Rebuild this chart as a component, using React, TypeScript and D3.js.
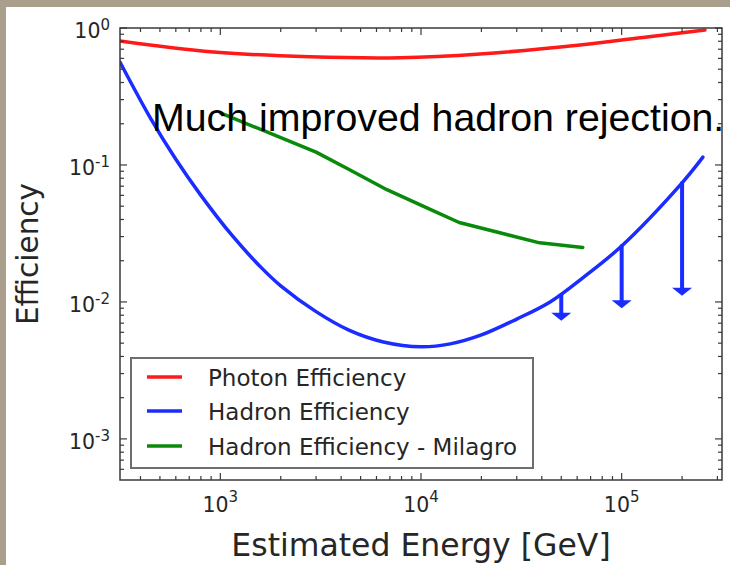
import React from "react";
import * as d3 from "d3";

// ---- data ----
const PHOTON_E = [316, 890, 2800, 7850, 19700, 62000, 133700, 260000];
const PHOTON_EFF = [0.804, 0.671, 0.617, 0.607, 0.646, 0.751, 0.86, 0.967];

const HADRON_E = [316, 450, 600, 800, 1150, 1600, 2000, 3000, 4400, 6500, 10000, 14000, 20000, 30000, 44000, 64000, 100000, 200000, 254000];
const HADRON_EFF = [0.565, 0.218, 0.11, 0.06, 0.0303, 0.0178, 0.0131, 0.0085, 0.0062, 0.0051, 0.0047, 0.00494, 0.00574, 0.0075, 0.01, 0.015, 0.0256, 0.074, 0.114];

const MILAGRO_E = [1000, 3000, 4430, 6760, 10700, 15500, 24700, 39000, 64000];
const MILAGRO_EFF = [0.24, 0.124, 0.092, 0.066, 0.0486, 0.038, 0.032, 0.027, 0.025];

const LIMIT_E = [50000, 100000, 200000];
const LIMIT_FROM = [0.0112, 0.0256, 0.074];
const LIMIT_TO = [0.0073, 0.009, 0.0111];

const X_TICK_EXP = [3, 4, 5];
const Y_TICK_EXP = [0, -1, -2, -3];

const LEGEND_LABELS = ["Photon Efficiency", "Hadron Efficiency", "Hadron Efficiency - Milagro"];
const LEGEND_COLORS = ["#ff1a1a", "#1a2cff", "#0a8a0a"];

const ANNOTATION = "Much improved hadron rejection.";
const X_LABEL = "Estimated Energy [GeV]";
const Y_LABEL = "Efficiency";

// ---- layout ----
const W = 730, H = 565;
const L = 120, R = 722, T = 28, B = 480;
const FONT = "DejaVu Sans, Bitstream Vera Sans, sans-serif";

export default function App() {
  const x = d3.scaleLog().domain([Math.pow(10, 2.5), Math.pow(10, 5.5)]).range([L, R]);
  const y = d3.scaleLog().domain([Math.pow(10, -3.3), 1]).range([B, T]);

  const smooth = d3
    .line<[number, number]>()
    .x((d) => x(d[0]))
    .y((d) => y(d[1]))
    .curve(d3.curveCatmullRom.alpha(0.5));
  const lineLin = d3
    .line<[number, number]>()
    .x((d) => x(d[0]))
    .y((d) => y(d[1]));

  const photon = PHOTON_E.map((e, i) => [e, PHOTON_EFF[i]] as [number, number]);
  const hadron = HADRON_E.map((e, i) => [e, HADRON_EFF[i]] as [number, number]);
  const milagro = MILAGRO_E.map((e, i) => [e, MILAGRO_EFF[i]] as [number, number]);

  // minor ticks
  const xMinor: number[] = [];
  for (let k = 2; k <= 5; k++) for (let m = 2; m <= 9; m++) {
    const v = m * Math.pow(10, k);
    if (v > x.domain()[0] && v < x.domain()[1]) xMinor.push(v);
  }
  const yMinor: number[] = [];
  for (let k = -4; k <= -1; k++) for (let m = 2; m <= 9; m++) {
    const v = m * Math.pow(10, k);
    if (v > y.domain()[0] && v < y.domain()[1]) yMinor.push(v);
  }
  const MAJ = 7, MIN = 4;
  const frame = "#3a3a3a";

  const legX = 131, legY = 358, legW = 402, legH = 110;
  const legRows = [377, 411, 446];

  return (
    <svg width={W} height={H} style={{ position: "absolute", left: 0, top: 0 }}>
      <defs>
        <clipPath id="plotclip">
          <rect x={L} y={T} width={R - L} height={B - T} />
        </clipPath>
      </defs>
      <rect x={0} y={0} width={W} height={H} fill="#aa9f8c" />
      <rect x={6} y={7} width={W - 6} height={H - 7} fill="#ffffff" />

      {/* curves */}
      <g clipPath="url(#plotclip)" fill="none" strokeLinejoin="round" strokeLinecap="round">
        <path d={smooth(photon) || ""} stroke={LEGEND_COLORS[0]} strokeWidth={3.5} />
        <path d={smooth(hadron) || ""} stroke={LEGEND_COLORS[1]} strokeWidth={3.5} />
        <path d={lineLin(milagro) || ""} stroke={LEGEND_COLORS[2]} strokeWidth={3.5} />
        {LIMIT_E.map((e, i) => {
          const cx = x(e);
          const y0 = y(LIMIT_FROM[i]);
          const y1 = y(LIMIT_TO[i]);
          const hh = 8, hw = 10;
          return (
            <g key={i}>
              <line x1={cx} x2={cx} y1={y0} y2={y1 - hh + 1} stroke={LEGEND_COLORS[1]} strokeWidth={4} />
              <path d={`M${cx - hw},${y1 - hh}L${cx + hw},${y1 - hh}L${cx},${y1}Z`} fill={LEGEND_COLORS[1]} stroke="none" />
            </g>
          );
        })}
      </g>

      {/* frame */}
      <rect x={L} y={T} width={R - L} height={B - T} fill="none" stroke={frame} strokeWidth={1.5} />

      {/* ticks */}
      <g stroke={frame} strokeWidth={1.2}>
        {X_TICK_EXP.map((k) => {
          const px = x(Math.pow(10, k));
          return (
            <g key={"xm" + k}>
              <line x1={px} x2={px} y1={B} y2={B - MAJ} />
              <line x1={px} x2={px} y1={T} y2={T + MAJ} />
            </g>
          );
        })}
        {xMinor.map((v, i) => {
          const px = x(v);
          return (
            <g key={"xn" + i}>
              <line x1={px} x2={px} y1={B} y2={B - MIN} />
              <line x1={px} x2={px} y1={T} y2={T + MIN} />
            </g>
          );
        })}
        {Y_TICK_EXP.map((k) => {
          const py = y(Math.pow(10, k));
          return (
            <g key={"ym" + k}>
              <line x1={L} x2={L + MAJ} y1={py} y2={py} />
              <line x1={R} x2={R - MAJ} y1={py} y2={py} />
            </g>
          );
        })}
        {yMinor.map((v, i) => {
          const py = y(v);
          return (
            <g key={"yn" + i}>
              <line x1={L} x2={L + MIN} y1={py} y2={py} />
              <line x1={R} x2={R - MIN} y1={py} y2={py} />
            </g>
          );
        })}
      </g>

      {/* tick labels */}
      <g fontFamily={FONT} fill="#262626">
        {X_TICK_EXP.map((k) => (
          <text key={"xl" + k} x={x(Math.pow(10, k))} y={512} textAnchor="middle" fontSize={20.5}>
            10
            <tspan fontSize={15} dy={-10}>{String(k)}</tspan>
          </text>
        ))}
        {Y_TICK_EXP.map((k) => (
          <text key={"yl" + k} x={110} y={y(Math.pow(10, k)) + 10} textAnchor="end" fontSize={20.5}>
            10
            <tspan fontSize={15} dy={-8}>{k === 0 ? "0" : "-" + String(-k)}</tspan>
          </text>
        ))}
        <text x={(L + R) / 2} y={556} textAnchor="middle" fontSize={31.5}>{X_LABEL}</text>
        <text transform={`translate(38,${(T + B) / 2}) rotate(-90)`} textAnchor="middle" fontSize={29.5}>{Y_LABEL}</text>
      </g>

      {/* legend */}
      <rect x={legX} y={legY} width={legW} height={legH} fill="#ffffff" stroke="#6e6e6e" strokeWidth={2} />
      <g fontFamily={FONT} fontSize={23} fill="#262626">
        {LEGEND_LABELS.map((lab, i) => (
          <g key={lab}>
            <line x1={147} x2={182} y1={legRows[i]} y2={legRows[i]} stroke={LEGEND_COLORS[i]} strokeWidth={3.5} />
            <text x={208} y={legRows[i] + 8.5}>{lab}</text>
          </g>
        ))}
      </g>

      {/* annotation */}
      <text x={152} y={131} fontFamily="Liberation Sans, Arial, sans-serif" fontSize={39.3} fill="#000">
        {ANNOTATION}
      </text>
    </svg>
  );
}
